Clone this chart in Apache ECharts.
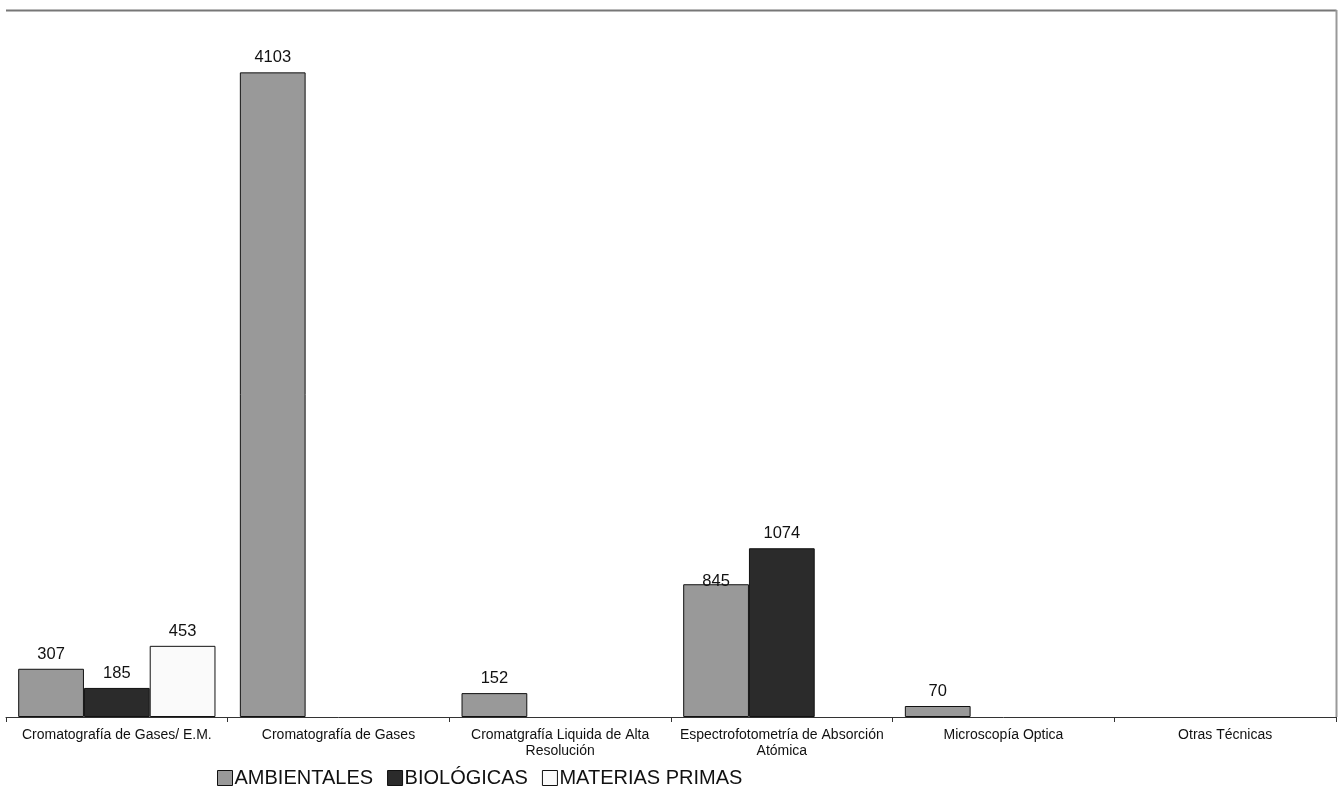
<!DOCTYPE html>
<html>
<head>
<meta charset="utf-8">
<script src="https://cdn.jsdelivr.net/npm/echarts@6/dist/echarts.min.js"></script>
<style>html,body{margin:0;padding:0;background:#fff}#c{width:1342px;height:794px}</style>
</head>
<body>
<div id="c"></div>
<script>
const categories = ['Cromatografía de Gases/ E.M.', 'Cromatografía de Gases', 'Cromatgrafía Liquida de Alta\nResolución', 'Espectrofotometría de Absorción\nAtómica', 'Microscopía Optica', 'Otras Técnicas'];
const seriesNames = ['AMBIENTALES', 'BIOLÓGICAS', 'MATERIAS PRIMAS'];
const ambientales = [307, 4103, 152, 845, 70, null];
const biologicas = [185, null, null, 1074, null, null];
const materiasPrimas = [453, null, null, null, null, null];
const colors = ['#999999', '#2b2b2b', '#fafafa'];

const chart = echarts.init(document.getElementById('c'));
const font = 'Liberation Sans, Arial, sans-serif';
function mk(name, data, color, lowIdx) {
  return {
    name, type: 'bar',
    data: data.map((v, i) => i === lowIdx ? { value: v, label: { offset: [0, 12] } } : v),
    barGap: '0%', barCategoryGap: '11%',
    itemStyle: { color, borderColor: '#111', borderWidth: 1 },
    label: { show: true, position: 'top', color: '#111', fontSize: 16.5, fontFamily: font, distance: 6 }
  };
}
chart.setOption({
  animation: false,
  grid: { left: 6, right: 6, top: 10, bottom: 77 },
  legend: {
    left: 212, bottom: 1, itemWidth: 15, itemHeight: 15, itemGap: 14,
    icon: 'rect',
    textStyle: { fontSize: 20, fontFamily: font, color: '#111', padding: [0, 0, 0, -3] },
    itemStyle: { borderColor: '#111', borderWidth: 1 },
    data: seriesNames
  },
  xAxis: {
    type: 'category', data: categories,
    axisLine: { lineStyle: { color: '#333', width: 1 } },
    axisTick: { show: true, alignWithLabel: false, length: 5, lineStyle: { color: '#333' } },
    axisLabel: { color: '#111', fontSize: 14, fontFamily: font, margin: 10, interval: 0, lineHeight: 16 }
  },
  yAxis: {
    type: 'value', min: 0, max: 4500,
    axisLine: { show: false }, axisTick: { show: false }, axisLabel: { show: false }, splitLine: { show: false }
  },
  graphic: [
    { type: 'line', shape: { x1: 6, y1: 10.5, x2: 1336.5, y2: 10.5 }, style: { stroke: '#777', lineWidth: 2 } },
    { type: 'line', shape: { x1: 1336.5, y1: 10, x2: 1336.5, y2: 717 }, style: { stroke: '#999', lineWidth: 2 } }
  ],
  series: [
    mk(seriesNames[0], ambientales, colors[0], 3),
    mk(seriesNames[1], biologicas, colors[1], -1),
    mk(seriesNames[2], materiasPrimas, colors[2], -1)
  ]
});
</script>
</body>
</html>
